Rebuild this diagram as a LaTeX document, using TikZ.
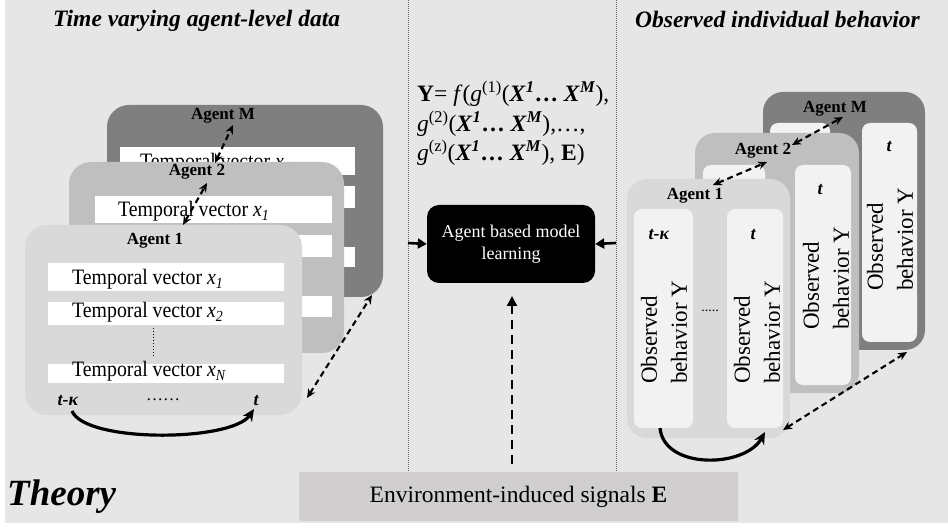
\documentclass[tikz,border=0pt]{standalone}
\usepackage{fontspec}
\setmainfont{Liberation Serif}
\newfontfamily\condserif{Liberation Serif}[FakeStretch=0.9]
\usetikzlibrary{arrows.meta}
\definecolor{bg}{HTML}{E6E6E6}
\definecolor{agM}{HTML}{7F7F7F}
\definecolor{agB}{HTML}{BFBFBF}
\definecolor{agA}{HTML}{D9D9D9}
\definecolor{innerc}{HTML}{F2F2F2}
\definecolor{envc}{HTML}{D0CECE}
\newcommand{\bX}{\textbf{\textit{X}}}
\newcommand{\bsup}[1]{\textsuperscript{\textbf{\textit{#1}}}}
\tikzset{
  hdr/.style={anchor=base west, inner sep=0, font=\fontsize{23.5}{28}\selectfont\bfseries\itshape},
  tv/.style={anchor=base west, inner sep=0, font=\condserif\fontsize{22}{26}\selectfont},
  aglab/.style={inner sep=0, font=\fontsize{17}{20}\selectfont\bfseries},
  tlab/.style={inner sep=0, font=\fontsize{18}{20}\selectfont\bfseries\itshape},
  obs/.style={rotate=90, anchor=west, inner sep=0, align=left, font=\fontsize{23}{30}\selectfont},
  frm/.style={anchor=base west, inner sep=0, font=\fontsize{23.5}{30}\selectfont},
  dda/.style={line width=2.1pt, dash pattern=on 6pt off 4pt, {Stealth[length=9pt,width=8pt]}-{Stealth[length=9pt,width=8pt]}},
  curv/.style={line width=3.2pt, -{Stealth[length=12pt,width=11pt]}},
  stripc/.style={fill=white},
  innerbox/.style={fill=innerc, rounded corners=8pt},
}
\begin{document}
\begin{tikzpicture}[x=1pt,y=-1pt]
\useasboundingbox (0,0) rectangle (948,529);
\fill[white] (0,0) rectangle (948,529);
\fill[bg] (5,0) rectangle (948,523);
% separators
\draw[gray!80!black, line width=0.5pt, dash pattern=on 1pt off 1pt] (408,0) -- (408,472);
\draw[gray!80!black, line width=0.5pt, dash pattern=on 1pt off 1pt] (616,0) -- (616,472);
% headers
\node[hdr] (h1) at (53,27) {Time varying agent-level data};
\node[hdr] (h2) at (635,28) {Observed individual behavior};
\node[anchor=base west, inner sep=0, font=\fontsize{37}{42}\selectfont\bfseries\itshape] (theory) at (7,505) {Theory};

% ---------- Left: Agent M ----------
\fill[agM, rounded corners=22pt] (107,105) rectangle (383,297);
\fill[stripc] (120,147) rectangle (355,175);
\fill[stripc] (120,186) rectangle (355,208);
\fill[stripc] (120,247) rectangle (355,267);
\node[tv] (tvM1) at (140,169) {Temporal vector \textit{x}\textsubscript{\textit{1}}};
\node[aglab] (lagM) at (223,116) {Agent M};
% ---------- Left: Agent 2 ----------
\fill[agB, rounded corners=22pt] (69,162) rectangle (344,353);
\fill[stripc] (95,196) rectangle (332,223);
\fill[stripc] (95,235) rectangle (332,257);
\fill[stripc] (95,296) rectangle (332,317);
\node[tv] (tvB1) at (118,217) {Temporal vector \textit{x}\textsubscript{\textit{1}}};
\node[aglab] (lagB) at (197,172) {Agent 2};
% ---------- Left: Agent 1 ----------
\fill[agA, rounded corners=22pt] (25,225) rectangle (302,415);
\fill[stripc] (48,263) rectangle (284,291);
\fill[stripc] (48,302) rectangle (284,325);
\fill[stripc] (48,364) rectangle (284,383);
\node[aglab] (lagA) at (155,241) {Agent 1};
\node[tv] (tvA1) at (72,285) {Temporal vector \textit{x}\textsubscript{\textit{1}}};
\node[tv] (tvA2) at (72,318) {Temporal vector \textit{x}\textsubscript{\textit{2}}};
\node[tv] (tvAN) at (72,377) {Temporal vector \textit{x}\textsubscript{\textit{N}}};
\draw[line width=0.9pt, dash pattern=on 1pt off 2pt] (153,328) -- (153,358);
\node[tlab] (ltk) at (68,401) {t-κ};
\node[inner sep=0, font=\fontsize{17}{20}\selectfont] (ldots) at (163,400) {……};
\node[tlab] (lt) at (256,401) {t};
% left arrows
\coordinate (la1) at (72,411);
\coordinate (la2) at (254,409);
\draw[curv] (la1) .. controls (85,443) and (232,442) .. (la2);
\coordinate (ld1a) at (183,225); \coordinate (ld1b) at (207,183);
\coordinate (ld2a) at (215,163); \coordinate (ld2b) at (233,125);
\coordinate (ld3a) at (307,398); \coordinate (ld3b) at (372,295);
\draw[dda] (ld1a) -- (ld1b);
\draw[dda] (ld2a) -- (ld2b);
\draw[dda] (ld3a) -- (ld3b);

% ---------- Right: Agent M ----------
\fill[agM, rounded corners=20pt] (763,92) rectangle (925,350);
\fill[innerbox] (770,123) rectangle (830,340);
\fill[innerbox] (862,123) rectangle (917,342);
\node[aglab] (ragM) at (835,109) {Agent M};
\node[tlab] (rtM) at (889,147) {t};
\node[obs] (obsM) at (890,291) {Observed\\behavior Y};
% ---------- Right: Agent 2 ----------
\fill[agB, rounded corners=20pt] (695,133) rectangle (859,393);
\fill[innerbox] (703,165) rectangle (765,385);
\fill[innerbox] (795,165) rectangle (851,385);
\node[aglab] (ragB) at (763,151) {Agent 2};
\node[tlab] (rtB) at (820,190) {t};
\node[obs] (obsB) at (826,330) {Observed\\behavior Y};
% ---------- Right: Agent 1 ----------
\fill[agA, rounded corners=20pt] (627,179) rectangle (790,438);
\fill[innerbox] (634,209) rectangle (693,428);
\fill[innerbox] (727,209) rectangle (783,428);
\node[aglab] (ragA) at (695,196) {Agent 1};
\node[tlab] (rtk) at (659,235) {t-κ};
\node[tlab] (rt) at (753,235) {t};
\node[obs] (obsA1) at (664,384) {Observed\\behavior Y};
\node[obs] (obsA2) at (757,384) {Observed\\behavior Y};
\node[inner sep=0, font=\fontsize{14}{16}\selectfont] (rdots) at (710,311) {.....};
% right arrows
\coordinate (ra1) at (660,428);
\coordinate (ra2) at (765,432);
\draw[curv] (ra1) .. controls (664,470) and (745,468) .. (ra2);
\coordinate (rd1a) at (713,185); \coordinate (rd1b) at (767,162);
\coordinate (rd2a) at (792,145); \coordinate (rd2b) at (843,117);
\coordinate (rd3a) at (783,430); \coordinate (rd3b) at (907,352);
\draw[dda] (rd1a) -- (rd1b);
\draw[dda] (rd2a) -- (rd2b);
\draw[dda] (rd3a) -- (rd3b);

% ---------- Middle ----------
\node[frm] (f1) at (417,102) {\textbf{Y}= \textit{f}(\textit{g}\textsuperscript{(1)}(\bX\bsup{1}\textbf{…} \bX\bsup{M}),};
\node[frm] (f2) at (417,132) {\textit{g}\textsuperscript{(2)}(\bX\bsup{1}\textbf{…} \bX\bsup{M}),…,};
\node[frm] (f3) at (417,161) {\textit{g}\textsuperscript{(z)}(\bX\bsup{1}\textbf{…} \bX\bsup{M}), \textbf{E})};
\node[fill=black, rounded corners=12pt, minimum width=168pt, minimum height=78pt, inner sep=0,
      text=white, align=center, font=\fontsize{18}{22}\selectfont] (abm) at (511,244) {Agent based model\\learning};
\node[fill=envc, minimum width=439pt, minimum height=49pt, inner sep=0,
      font=\fontsize{23.5}{27}\selectfont] (env) at (518.5,496.5) {Environment-induced signals \textbf{E}};
\coordinate (lin) at (408,243);
\coordinate (rin) at (616,243);
\draw[line width=2.6pt, -{Triangle[length=9pt,width=10pt]}] (lin) -- (abm.west);
\draw[line width=2.6pt, -{Triangle[length=9pt,width=10pt]}] (rin) -- (abm.east);
\coordinate (envtop) at (512,464);
\coordinate (abmbot) at (512,296);
\draw[line width=2.2pt, dash pattern=on 9pt off 6pt, -{Triangle[length=10pt,width=10pt]}] (envtop) -- (abmbot);
\end{tikzpicture}
\end{document}
